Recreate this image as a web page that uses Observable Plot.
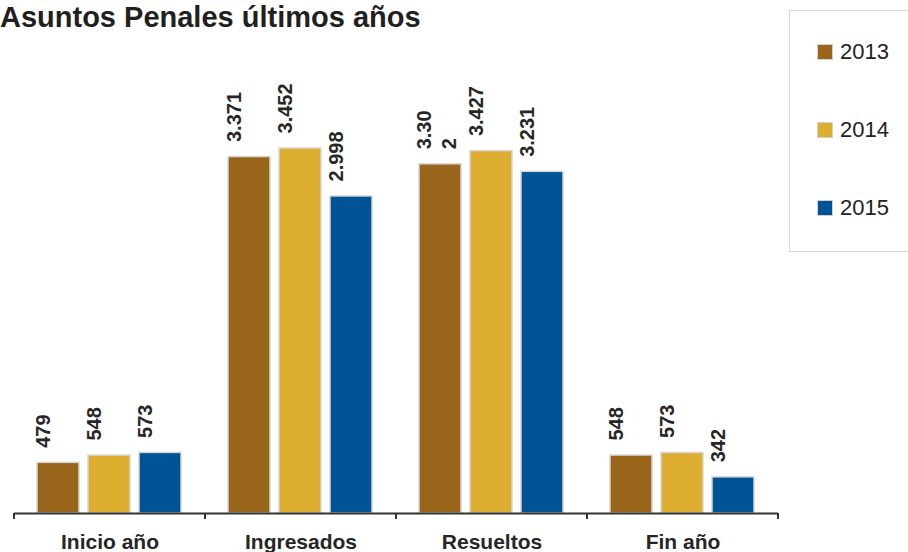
<!DOCTYPE html>
<html><head><meta charset="utf-8">
<script src="https://cdn.jsdelivr.net/npm/d3@7"></script>
<script src="https://cdn.jsdelivr.net/npm/@observablehq/plot@0.6"></script>
<style>
html,body{margin:0;padding:0;overflow:hidden;background:#fff;}
#wrap{position:relative;width:908px;height:552px;font-family:"Liberation Sans",Arial,sans-serif;}
#chart{position:absolute;left:0;top:0;}
#title{position:absolute;left:0;top:0;font-size:29px;font-weight:bold;color:#231f20;line-height:34px;white-space:nowrap;}
#legend{position:absolute;left:789px;top:10px;width:130px;height:242px;border:1.5px solid #d9d9d9;box-sizing:border-box;}
.item{position:absolute;left:27px;height:24px;display:flex;align-items:center;font-size:22px;color:#222;}
.sw{width:14px;height:14px;border:1px solid #d0d0d0;margin-right:7px;}
</style></head><body>
<div id="wrap"><div id="chart"></div><div id="title">Asuntos Penales últimos años</div><div id="legend"></div></div>
<script>
const categories = ["Inicio año", "Ingresados", "Resueltos", "Fin año"];
const years = ["2013", "2014", "2015"];
const values2013 = [479, 3371, 3302, 548];
const values2014 = [548, 3452, 3427, 573];
const values2015 = [573, 2998, 3231, 342];
const labels2013 = ["479", "3.371", "3.30\n2", "548"];
const labels2014 = ["548", "3.452", "3.427", "573"];
const labels2015 = ["573", "2.998", "3.231", "342"];
const colors = ["#98651b", "#ddae30", "#005496"];

const series = [values2013, values2014, values2015];
const labelSeries = [labels2013, labels2014, labels2015];
const rows = [];
categories.forEach((c, i) => years.forEach((y, j) => rows.push({category: c, year: y, value: series[j][i], label: labelSeries[j][i]})));
const single = rows.filter(d => !d.label.includes("\n"));
const wrapped = rows.filter(d => d.label.includes("\n"));

const edgeTicks = (index, scales, values, dims) => {
  const g = d3.create("svg:g").attr("stroke", "#333").attr("stroke-width", 2);
  const y0 = dims.height - dims.marginBottom;
  for (const x of [dims.marginLeft, dims.width - dims.marginRight]) {
    g.append("line").attr("x1", x).attr("x2", x).attr("y1", y0).attr("y2", y0 + 6);
  }
  return g.node();
};

const chart = Plot.plot({
  width: 908, height: 552,
  marginTop: 90, marginBottom: 39, marginLeft: 13, marginRight: 129,
  fx: {domain: categories, padding: 0, label: null},
  x: {domain: years, paddingInner: 0.173, paddingOuter: 0.428, axis: null},
  y: {domain: [0, 4000], axis: null},
  color: {domain: years, range: colors},
  style: {fontFamily: "'Liberation Sans', Arial, sans-serif", background: "transparent", color: "#262626"},
  marks: [
    Plot.barY(rows, {fx: "category", x: "year", y: "value", fill: "year", stroke: "#d6d6d6", strokeWidth: 1.5}),
    Plot.ruleY([0], {stroke: "#333", strokeWidth: 2}),
    edgeTicks,
    Plot.text(single, {fx: "category", x: "year", y: "value", text: "label", rotate: -90, textAnchor: "start", lineAnchor: "middle", dx: -15, dy: -15, fontSize: 20, fontWeight: "bold", fill: "#262626"}),
    Plot.text(wrapped, {fx: "category", x: "year", y: "value", text: "label", rotate: -90, textAnchor: "start", lineAnchor: "middle", lineHeight: 1.27, dx: -5, dy: -15, fontSize: 20, fontWeight: "bold", fill: "#262626"}),
    Plot.axisFx({anchor: "bottom", tickSize: 0, tickPadding: 21, fontSize: 21, fontWeight: "bold", label: null})
  ]
});
document.getElementById("chart").appendChild(chart);

const legend = d3.select("#legend");
years.forEach((y, i) => {
  const item = legend.append("div").attr("class", "item").style("top", (29 + i * 78) + "px");
  item.append("div").attr("class", "sw").style("background", colors[i]);
  item.append("span").text(y);
});
</script>
</body></html>
